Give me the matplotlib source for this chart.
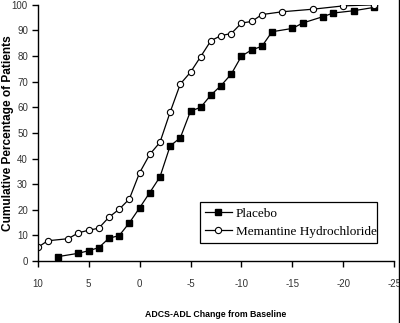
import matplotlib
matplotlib.use('Agg')
import matplotlib.pyplot as plt
from matplotlib.lines import Line2D

plt.rcParams['axes.unicode_minus'] = False

# values
placebo_x = [8, 6, 5, 4, 3, 2, 1, 0, -1, -2, -3, -4, -5, -6, -7, -8, -9, -10,
             -11, -12, -13, -15, -16, -18, -19, -21, -23]
placebo_y = [1.7, 3.0, 4.0, 5.2, 8.9, 9.9, 14.9, 20.7, 26.7, 32.8, 44.9, 48.1,
             58.5, 60.0, 64.8, 68.5, 73.0, 80.0, 82.4, 83.8, 89.5, 90.8, 92.9,
             95.4, 96.8, 97.7, 99.0]

meman_x = [10, 9, 7, 6, 5, 4, 3, 2, 1, 0, -1, -2, -3, -4, -5, -6, -7, -8, -9,
           -10, -11, -12, -14, -17, -20, -23]
meman_y = [5.3, 7.9, 8.7, 11.0, 12.0, 12.8, 17.1, 20.2, 24.2, 34.4, 41.6, 46.3,
           58.1, 69.1, 73.7, 79.8, 86.0, 88.0, 88.8, 92.9, 93.5, 96.2, 97.3,
           98.3, 99.6, 100.0]

x_ticks = [10, 5, 0, -5, -10, -15, -20, -25]
y_ticks = [0, 10, 20, 30, 40, 50, 60, 70, 80, 90, 100]

narrow = ['Liberation Sans Narrow', 'Liberation Sans', 'DejaVu Sans']


def main():
    fig = plt.figure(figsize=(4.0, 3.23), dpi=100)
    ax = fig.add_axes([0.094, 0.192, 0.892, 0.793])

    ax.plot(placebo_x, placebo_y, color='black', lw=0.9, marker='s', ms=4.5,
            mfc='black', mec='black', label='Placebo')
    ax.plot(meman_x, meman_y, color='black', lw=0.9, marker='o', ms=4.5,
            mfc='white', mec='black', mew=0.8, label='Memantine Hydrochloride')

    ax.set_xlim(10, -25)
    ax.set_ylim(0, 100)
    ax.set_xticks(x_ticks)
    ax.set_yticks(y_ticks)
    for s in ('top', 'right'):
        ax.spines[s].set_visible(False)
    for s in ('left', 'bottom'):
        ax.spines[s].set_linewidth(1.0)
    ax.tick_params(axis='x', length=4, width=1.0, pad=9, labelsize=7, labelcolor='#333333')
    ax.tick_params(axis='y', length=4, width=1.0, pad=3, labelsize=7, labelcolor='#333333')
    for lab in ax.get_xticklabels() + ax.get_yticklabels():
        lab.set_family(narrow)

    ax.set_xlabel('ADCS-ADL Change from Baseline', family=narrow, fontsize=6.3,
                  fontweight='bold', labelpad=15)
    ax.set_ylabel('Cumulative Percentage of Patients', family=['Liberation Sans', 'DejaVu Sans'],
                  fontsize=8.6, fontweight='bold')
    ax.yaxis.set_label_coords(-0.066, 0.5)

    leg = ax.legend(loc='lower left', bbox_to_anchor=(0.455, 0.07, 0.496, 0.168),
                    mode='expand', fancybox=False, framealpha=1, edgecolor='black',
                    prop={'family': 'Liberation Serif', 'size': 9.5},
                    handlelength=2.0, handletextpad=0.3, borderpad=0.4,
                    labelspacing=0.45, borderaxespad=0)
    leg.get_frame().set_linewidth(0.9)

    # border line at the right edge of the picture
    fig.add_artist(Line2D([0.997, 0.997], [0, 1], transform=fig.transFigure,
                          color='black', lw=1.0))

    fig.savefig('out.png', dpi=100)


if __name__ == "__main__":
    main()
